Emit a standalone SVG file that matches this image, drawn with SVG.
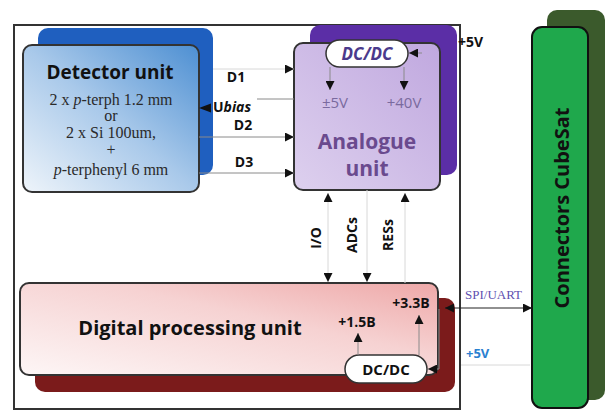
<svg xmlns="http://www.w3.org/2000/svg" width="606" height="414" viewBox="0 0 606 414">
<style>
.sans{font-family:"Open Sans","Liberation Sans",sans-serif}
.serif{font-family:"Liberation Serif","Times New Roman",serif}
.b{font-weight:bold}
.lbl{font-family:"Open Sans","Liberation Sans",sans-serif;font-weight:bold;font-size:14px;fill:#111}
.wire{stroke:#8a8a8a;stroke-width:1;fill:none}
.faint{stroke:#d8d8d8;stroke-width:1;fill:none}
.box{stroke:#333;stroke-width:2}
.pill{fill:#fff;stroke:#333;stroke-width:1.5}
</style>
<defs>
<linearGradient id="gDet" x1="0" y1="1" x2="1" y2="0">
<stop offset="0" stop-color="#eef4fa"/><stop offset="0.5" stop-color="#a9c9ea"/><stop offset="1" stop-color="#4d8fd2"/>
</linearGradient>
<linearGradient id="gAn" x1="0" y1="1" x2="1" y2="0">
<stop offset="0" stop-color="#ddd0ee"/><stop offset="1" stop-color="#c0a8df"/>
</linearGradient>
<linearGradient id="gDig" x1="0" y1="1" x2="1" y2="0">
<stop offset="0" stop-color="#fdf6f6"/><stop offset="0.6" stop-color="#f6d2d2"/><stop offset="1" stop-color="#eea8a8"/>
</linearGradient>
<marker id="ah" viewBox="0 0 10 10" refX="10" refY="5" markerWidth="12" markerHeight="9" markerUnits="userSpaceOnUse" orient="auto-start-reverse">
<path d="M0,0 L10,5 L0,10 z" fill="#111"/>
</marker>
</defs>
<rect width="606" height="414" fill="#fff"/>
<rect id="frame" x="14" y="25" width="446" height="384" fill="none" stroke="#333" stroke-width="2"/>

<g id="detector">
<rect x="38" y="28" width="175" height="147" rx="10" fill="#1f5fbf"/>
<rect class="box" x="23" y="45" width="176" height="147" rx="9" fill="url(#gDet)"/>
<text class="sans b" x="110" y="79" font-size="19" text-anchor="middle" fill="#111">Detector unit</text>
<g class="serif" font-size="16" text-anchor="middle" fill="#2a2a2a">
<text x="111" y="105">2 x <tspan font-style="italic">p</tspan>-terph 1.2 mm</text>
<text x="111" y="121">or</text>
<text x="111" y="138">2 x Si 100um,</text>
<text x="111" y="155">+</text>
<text x="111" y="175"><tspan font-style="italic">p</tspan>-terphenyl 6 mm</text>
</g>
</g>

<g id="analogue">
<rect x="310" y="25" width="147" height="150" rx="10" fill="#5b2ea6"/>
<rect class="box" x="294" y="43" width="146" height="147" rx="9" fill="url(#gAn)"/>
<rect class="pill" x="326" y="40" width="82" height="27" rx="13.5"/>
<text class="sans b" x="367" y="60" font-size="17" font-style="italic" text-anchor="middle" fill="#4b3a8c">DC/DC</text>
<text class="sans" x="335" y="108" font-size="15" text-anchor="middle" fill="#7a6a9e">±5V</text>
<text class="sans" x="404" y="108" font-size="15" text-anchor="middle" fill="#7a6a9e">+40V</text>
<text class="sans b" x="367" y="149" font-size="21" text-anchor="middle" fill="#6a4a8e">Analogue</text>
<text class="sans b" x="367" y="176" font-size="21" text-anchor="middle" fill="#6a4a8e">unit</text>
</g>

<g id="digital">
<rect x="35" y="298" width="420" height="94" rx="10" fill="#7b1b1b"/>
<rect class="box" x="20" y="283" width="418" height="92" rx="9" fill="url(#gDig)"/>
<text class="sans b" x="190" y="335" font-size="20" text-anchor="middle" fill="#111">Digital processing unit</text>
<text class="lbl" x="411" y="308" text-anchor="middle">+3.3B</text>
<text class="lbl" x="357" y="327" text-anchor="middle">+1.5B</text>
<rect class="pill" x="345" y="355" width="82" height="28" rx="14"/>
<text class="sans b" x="386" y="375" font-size="15" text-anchor="middle" fill="#111">DC/DC</text>
</g>

<g id="connectors">
<rect x="547" y="10" width="58" height="390" rx="10" fill="#3b5a2c"/>
<rect x="532" y="27" width="56" height="381" rx="10" fill="#1fa84c" stroke="#111" stroke-width="2"/>
<text class="sans b" x="569" y="208" font-size="20" text-anchor="middle" fill="#111" transform="rotate(-90 569 208)">Connectors CubeSat</text>
</g>

<g id="edges">
<path class="faint" d="M213,69 H294" marker-end="url(#ah)"/>
<path class="wire" d="M257,99 H294"/>
<polygon points="199,108 211,103.5 211,112.5" fill="#111"/>
<path class="wire" d="M199,137 H294" marker-end="url(#ah)"/>
<path class="wire" d="M199,173 H294" marker-end="url(#ah)"/>
<text class="lbl" x="236" y="82" text-anchor="middle">D1</text>
<text class="lbl" x="213" y="112">U<tspan font-style="italic">bias</tspan></text>
<text class="lbl" x="243" y="130" text-anchor="middle">D2</text>
<text class="lbl" x="244" y="167" text-anchor="middle">D3</text>

<path class="wire" d="M422,53 H409" marker-end="url(#ah)"/>
<text class="lbl" x="458" y="47">+5V</text>
<path class="wire" d="M330,67 V90" marker-end="url(#ah)"/>
<path class="wire" d="M404,67 V90" marker-end="url(#ah)"/>

<path class="faint" d="M328,193 V282" marker-start="url(#ah)" marker-end="url(#ah)"/>
<path class="faint" d="M367,190 V282" marker-end="url(#ah)"/>
<path class="faint" d="M405,283 V193" marker-end="url(#ah)"/>
<text class="lbl" x="321" y="238" text-anchor="middle" transform="rotate(-90 321 238)">I/O</text>
<text class="lbl" x="357" y="235" text-anchor="middle" transform="rotate(-90 357 235)">ADCs</text>
<text class="lbl" x="393" y="235" text-anchor="middle" transform="rotate(-90 393 235)">RESs</text>

<path class="wire" d="M358,355 V333" marker-end="url(#ah)"/>
<path class="wire" d="M419,355 V315" marker-end="url(#ah)"/>
<path class="wire" d="M439,309 V369 H428" marker-end="url(#ah)"/>
<path d="M445,308 H532" stroke="#222" stroke-width="1.2" fill="none" marker-start="url(#ah)" marker-end="url(#ah)"/>
<text class="serif" x="465" y="299" font-size="13" fill="#6050b0">SPI/UART</text>
<text class="sans b" x="466" y="358" font-size="13" fill="#2a80d0">+5V</text>
<path class="faint" d="M461,365 H530"/>
</g>
</svg>
